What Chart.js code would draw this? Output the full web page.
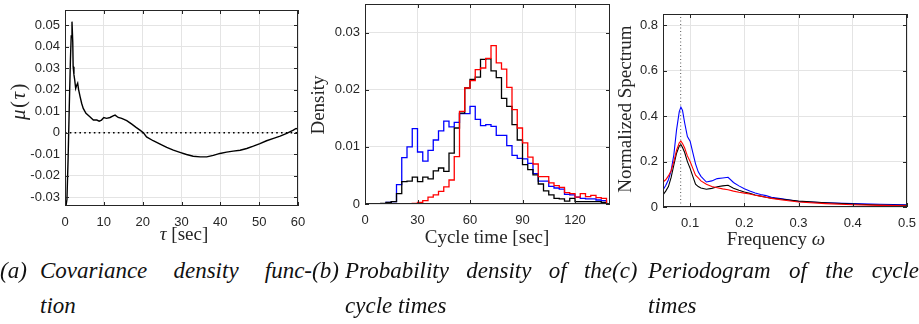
<!DOCTYPE html>
<html>
<head>
<meta charset="utf-8">
<script src="https://cdn.jsdelivr.net/npm/chart.js@4.4.0/dist/chart.umd.min.js"></script>
<style>
  html, body { margin: 0; padding: 0; background: #fff; }
  #wrap { position: relative; width: 919px; height: 324px; overflow: hidden; }
  canvas { position: absolute; top: 0; }
  .ttl { position: absolute; font-family: "Liberation Serif", serif; font-size: 19px; color: #262626;
         white-space: nowrap; transform: translate(-50%, -50%); }
  .rot { transform: translate(-50%, -50%) rotate(-90deg); }
  .cap { position: absolute; top: 253px; font-family: "Liberation Serif", serif; font-style: italic;
         font-size: 23px; line-height: 35px; color: #111; }
  .cap .tag { position: absolute; left: 0; top: 0; }
  .cap .l1 { text-align: justify; text-align-last: justify; white-space: nowrap; }
</style>
</head>
<body>
<div id="wrap">
  <canvas id="covChart" width="310" height="250" style="left:0px"></canvas>
  <canvas id="histChart" width="315" height="250" style="left:305px"></canvas>
  <canvas id="specChart" width="307" height="250" style="left:612px"></canvas>

  <div class="ttl rot" style="left:18px; top:101px; font-size:21px; letter-spacing:1.5px"><i>μ</i>(<i>τ</i>)</div>
  <div class="ttl" style="left:184px; top:234px"><i>τ</i> [sec]</div>
  <div class="ttl rot" style="left:318px; top:105px">Density</div>
  <div class="ttl" style="left:487px; top:237px">Cycle time [sec]</div>
  <div class="ttl rot" style="left:625px; top:109px">Normalized Spectrum</div>
  <div class="ttl" style="left:776px; top:239px">Frequency <i>ω</i></div>

  <div class="cap" style="left:0px; width:312px">
    <span class="tag">(a)</span>
    <div style="margin-left:40px"><div class="l1">Covariance density func-</div><div>tion</div></div>
  </div>
  <div class="cap" style="left:312px; width:300px">
    <span class="tag">(b)</span>
    <div style="margin-left:33px"><div class="l1">Probability density of the</div><div>cycle times</div></div>
  </div>
  <div class="cap" style="left:612px; width:307px">
    <span class="tag">(c)</span>
    <div style="margin-left:36px"><div class="l1">Periodogram of the cycle</div><div>times</div></div>
  </div>
</div>

<script>
// (a) covariance density
const tauSec = [0.25, 0.5, 0.8, 1.1, 1.4, 1.6, 1.8, 2.0, 2.1, 2.3, 2.5, 2.75, 3.0, 3.26, 3.5, 3.9, 4.3, 4.7,
  5.4, 6.4, 7.3, 8.2, 8.8, 9.4, 10.0, 10.7, 11.6, 12.4, 12.9, 13.7, 14.6, 15.9, 17.2, 18.3, 19.3, 20.2,
  21.0, 22.7, 24.5, 26.2, 27.9, 29.6, 31.3, 33.0, 34.8, 36.5, 38.2, 39.9, 41.6, 43.3, 45.1, 46.8, 48.5,
  50.2, 51.9, 53.7, 55.4, 57.1, 58.8, 59.5, 60.0];
const muVals = [-0.034, -0.031, -0.012, 0.012, 0.034, 0.045, 0.0516, 0.042, 0.0307, 0.027, 0.0245, 0.0206,
  0.022, 0.023, 0.020, 0.0167, 0.0136, 0.0113, 0.009, 0.0074, 0.0059, 0.0059, 0.0054, 0.0059, 0.0071, 0.0067,
  0.0071, 0.0078, 0.0082, 0.0071, 0.0067, 0.0056, 0.0040, 0.0025, 0.0012, 0.0000, -0.0019, -0.0037, -0.0053,
  -0.0068, -0.0081, -0.0091, -0.0101, -0.0109, -0.0112, -0.0112, -0.0105, -0.0096, -0.0090, -0.0085, -0.0081,
  -0.0073, -0.0062, -0.0050, -0.0037, -0.0026, -0.0016, -0.0003, 0.0012, 0.0020, 0.0016];
const covTicksX = [0, 10, 20, 30, 40, 50, 60];
const covTicksY = [-0.03, -0.02, -0.01, 0, 0.01, 0.02, 0.03, 0.04, 0.05];
const covLabelsY = ['-0.03', '-0.02', '-0.01', '0', '0.01', '0.02', '0.03', '0.04', '0.05'];

// (b) histograms, 3 s bins from 0 to 138
const binWidth = 3;
const densBlue = [0, 0, 0, 0, 0.0003, 0.0004, 0.0034, 0.0081, 0.0100, 0.0132, 0.0091, 0.0075, 0.0094, 0.0112,
  0.0128, 0.0145, 0.0135, 0.0143, 0.0158, 0.0158, 0.0171, 0.0148, 0.0137, 0.0139, 0.0136, 0.0120, 0.0120,
  0.0102, 0.0085, 0.0080, 0.0079, 0.0071, 0.0053, 0.0040, 0.0040, 0.0031, 0.0028, 0.0026, 0.0017, 0.0016,
  0.0012, 0.0010, 0.0009, 0.0009, 0.0007, 0.0006];
const densBlack = [0, 0, 0, 0.0001, 0.0003, 0.0004, 0.0018, 0.0039, 0.0040, 0.0047, 0.0039, 0.0047, 0.0044,
  0.0058, 0.0063, 0.0057, 0.0089, 0.0133, 0.0159, 0.0203, 0.0218, 0.0222, 0.0253, 0.0254, 0.0233, 0.0221,
  0.0185, 0.0171, 0.0139, 0.0112, 0.0069, 0.0060, 0.0051, 0.0035, 0.0023, 0.0016, 0.0010, 0.0009, 0.0005,
  0.0010, 0.0004, 0.0004, 0.0004, 0.0004, 0.0004, 0.0003];
const densRed = [0, 0, 0, 0, 0, 0, 0, 0, 0, 0.0001, 0.0003, 0.0006, 0.0012, 0.0016, 0.0022, 0.0030, 0.0042,
  0.0083, 0.0162, 0.0203, 0.0216, 0.0235, 0.0238, 0.0255, 0.0277, 0.0247, 0.0236, 0.0204, 0.0165, 0.0133,
  0.0107, 0.0082, 0.0070, 0.0048, 0.0048, 0.0037, 0.0032, 0.0029, 0.0020, 0.0018, 0.0012, 0.0018, 0.0013,
  0.0015, 0.0011, 0.0010];
const histTicksX = [0, 30, 60, 90, 120];
const histTicksY = [0, 0.01, 0.02, 0.03];
const histLabelsY = ['0', '0.01', '0.02', '0.03'];

// (c) periodogram
const freq = [0.05, 0.055, 0.06, 0.065, 0.07, 0.075, 0.08, 0.083, 0.086, 0.09, 0.095, 0.1, 0.105, 0.11, 0.115,
  0.12, 0.13, 0.14, 0.15, 0.16, 0.17, 0.18, 0.19, 0.2, 0.21, 0.22, 0.23, 0.24, 0.25, 0.27, 0.3, 0.35, 0.4, 0.45, 0.5];
const specBlue = [0.075, 0.095, 0.12, 0.16, 0.23, 0.34, 0.42, 0.44, 0.425, 0.37, 0.31, 0.29, 0.24, 0.19, 0.155,
  0.135, 0.11, 0.115, 0.125, 0.128, 0.131, 0.108, 0.093, 0.08, 0.07, 0.062, 0.055, 0.05, 0.043, 0.036, 0.024,
  0.019, 0.015, 0.012, 0.01];
const specBlack = [0.053, 0.07, 0.09, 0.13, 0.185, 0.237, 0.268, 0.275, 0.262, 0.24, 0.2, 0.17, 0.135, 0.1, 0.09,
  0.084, 0.078, 0.082, 0.089, 0.093, 0.096, 0.083, 0.074, 0.066, 0.06, 0.053, 0.048, 0.043, 0.039, 0.034, 0.026,
  0.019, 0.013, 0.009, 0.007];
const specRed = [0.11, 0.12, 0.137, 0.16, 0.2, 0.25, 0.283, 0.29, 0.28, 0.26, 0.225, 0.2, 0.17, 0.14, 0.128,
  0.115, 0.1, 0.09, 0.085, 0.08, 0.076, 0.07, 0.065, 0.061, 0.057, 0.052, 0.048, 0.043, 0.038, 0.031, 0.022,
  0.015, 0.01, 0.007, 0.005];
const peakFreq = 0.0826;
const specTicksX = [0.1, 0.2, 0.3, 0.4, 0.5];
const specLabelsX = ['0.1', '0.2', '0.3', '0.4', '0.5'];
const specTicksY = [0, 0.2, 0.4, 0.6, 0.8];
const specLabelsY = ['0', '0.2', '0.4', '0.6', '0.8'];

const AXIS = '#262626';
const GRID = '#e4e4e4';
const tickFont = { family: 'Liberation Sans, Arial, sans-serif', size: 13 };

const toXY = (xs, ys) => xs.map((x, i) => ({ x: x, y: ys[i] }));

function histPoints(vals) {
  const pts = vals.map((v, i) => ({ x: i * binWidth, y: v }));
  pts.push({ x: vals.length * binWidth, y: 0 });
  return pts;
}

// box round the plot plus inward tick marks, MATLAB style
const framePlugin = {
  id: 'frame',
  afterDraw(chart) {
    const { ctx, chartArea: a, scales } = chart;
    const L = 4;
    ctx.save();
    ctx.strokeStyle = AXIS;
    ctx.lineWidth = 1;
    ctx.strokeRect(a.left + 0.5, a.top + 0.5, a.width - 1, a.height - 1);
    ctx.beginPath();
    scales.x.ticks.forEach(t => {
      const px = Math.round(scales.x.getPixelForValue(t.value)) + 0.5;
      ctx.moveTo(px, a.bottom); ctx.lineTo(px, a.bottom - L);
      ctx.moveTo(px, a.top); ctx.lineTo(px, a.top + L);
    });
    scales.y.ticks.forEach(t => {
      const py = Math.round(scales.y.getPixelForValue(t.value)) + 0.5;
      ctx.moveTo(a.left, py); ctx.lineTo(a.left + L, py);
      ctx.moveTo(a.right, py); ctx.lineTo(a.right - L, py);
    });
    ctx.stroke();
    ctx.restore();
  }
};

function axis(min, max, ticks, labels, fixSize, horizontal) {
  return {
    type: 'linear',
    min: min,
    max: max,
    border: { display: false },
    grid: { color: GRID, lineWidth: 1, drawTicks: false },
    ticks: {
      color: AXIS,
      font: tickFont,
      padding: horizontal ? 9 : 5,
      autoSkip: false,
      maxRotation: 0,
      callback: (v, i) => labels[i]
    },
    afterBuildTicks: s => { s.ticks = ticks.map(v => ({ value: v })); },
    afterFit: s => {
      if (horizontal) s.height = fixSize; else s.width = fixSize;
      s.paddingTop = 0; s.paddingBottom = 0; s.paddingLeft = 0; s.paddingRight = 0;
    }
  };
}

function baseOptions(pad, xAxis, yAxis) {
  return {
    responsive: false,
    animation: false,
    events: [],
    layout: { padding: pad },
    plugins: { legend: { display: false }, tooltip: { enabled: false } },
    elements: { point: { radius: 0 }, line: { tension: 0 } },
    scales: { x: xAxis, y: yAxis }
  };
}

// (a)
new Chart(document.getElementById('covChart'), {
  type: 'line',
  data: {
    datasets: [
      { data: toXY(tauSec, muVals), borderColor: '#000', borderWidth: 1.4 },
      { data: [{ x: 0, y: 0 }, { x: 60, y: 0 }], borderColor: '#000', borderWidth: 1.6, borderDash: [1.6, 3.2] }
    ]
  },
  options: baseOptions({ left: 0, right: 12, top: 10, bottom: 0 },
    axis(0, 60, covTicksX, covTicksX.map(String), 44, true),
    axis(-0.034, 0.057, covTicksY, covLabelsY, 65, false)),
  plugins: [framePlugin]
});

// (b)
new Chart(document.getElementById('histChart'), {
  type: 'line',
  data: {
    datasets: [
      { data: histPoints(densRed), borderColor: '#ff0000', borderWidth: 1.3, stepped: 'before' },
      { data: histPoints(densBlack), borderColor: '#000000', borderWidth: 1.3, stepped: 'before' },
      { data: histPoints(densBlue), borderColor: '#0000ff', borderWidth: 1.3, stepped: 'before' }
    ]
  },
  options: baseOptions({ left: 0, right: 10, top: 4, bottom: 0 },
    axis(0, 140, histTicksX, histTicksX.map(String), 46, true),
    axis(0, 0.035, histTicksY, histLabelsY, 60, false)),
  plugins: [framePlugin]
});

// (c)
new Chart(document.getElementById('specChart'), {
  type: 'line',
  data: {
    datasets: [
      { data: toXY(freq, specRed), borderColor: '#ff0000', borderWidth: 1.1 },
      { data: toXY(freq, specBlack), borderColor: '#000000', borderWidth: 1.1 },
      { data: toXY(freq, specBlue), borderColor: '#0000ff', borderWidth: 1.1 },
      { data: [{ x: peakFreq, y: 0 }, { x: peakFreq, y: 0.85 }], borderColor: '#555', borderWidth: 1, borderDash: [1, 2.5] }
    ]
  },
  options: baseOptions({ left: 0, right: 12, top: 14, bottom: 0 },
    axis(0.05, 0.5, specTicksX, specLabelsX, 43, true),
    axis(0, 0.85, specTicksY, specLabelsY, 51, false)),
  plugins: [framePlugin]
});
</script>
</body>
</html>
